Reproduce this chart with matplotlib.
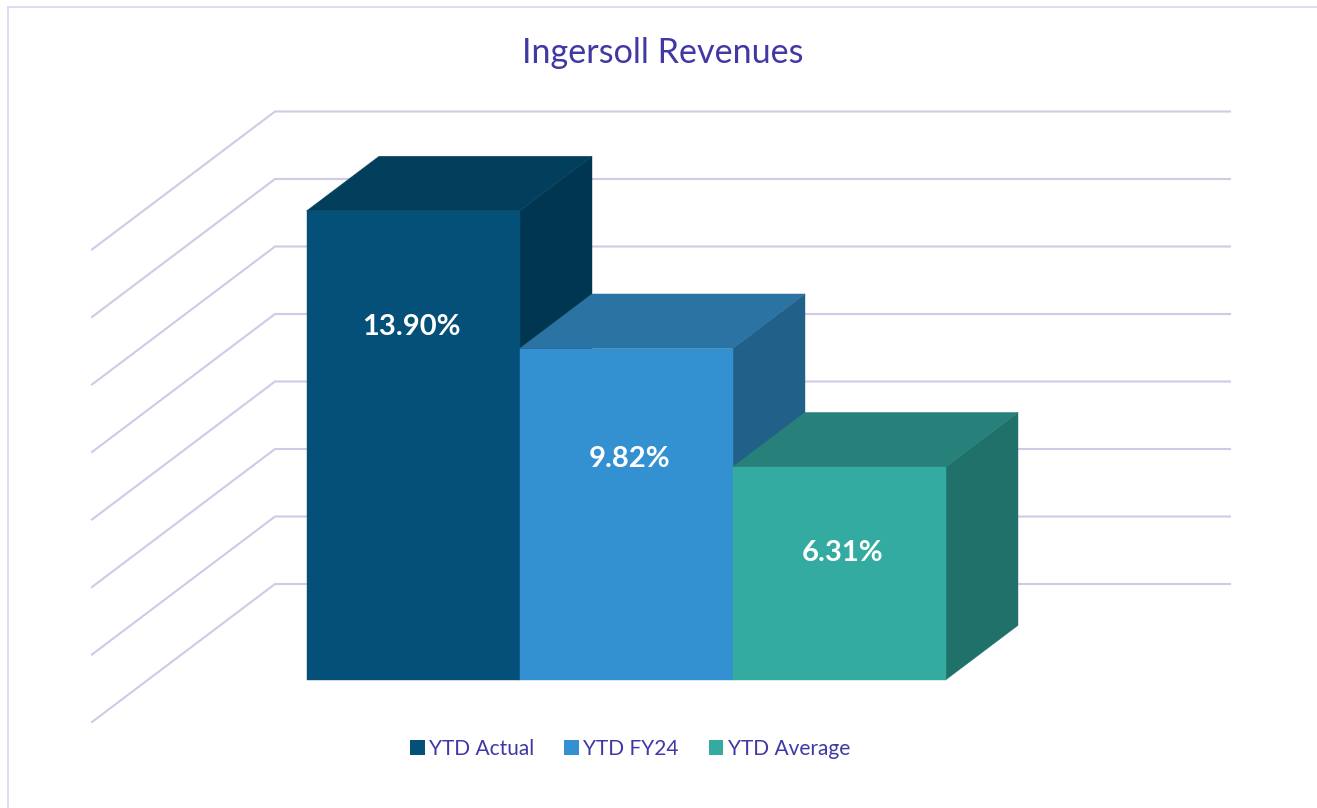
import matplotlib
matplotlib.use("Agg")
import matplotlib.pyplot as plt
from matplotlib.patches import Polygon, Patch

# values
series = ["YTD Actual", "YTD FY24", "YTD Average"]
values = [13.90, 9.82, 6.31]
labels = ["13.90%", "9.82%", "6.31%"]
grid_values = [0, 2, 4, 6, 8, 10, 12, 14]

front_colors = ["#045078", "#3491D1", "#34ABA1"]
top_colors = ["#023F5C", "#2A73A2", "#28807A"]
side_colors = ["#003650", "#216088", "#1F7169"]
text_color = "#4038A4"
grid_color = "#CFCAE6"
frame_color = "#D6D1F2"

W, H = 1317, 808
PX_X = 213.0    # pixels for one bar width
PX_Y = 33.75    # pixels for one percent
X0, Y0 = 92, 722    # front corner of the wall at 0

# depth of the walls, in data units
DEPTH_X = 183 / PX_X
DEPTH_Y = 138 / PX_Y
WALL_W = 955 / PX_X
BAR_D0 = 0.304
BAR_D1 = 0.70
BAR_START = 0.746


def proj(x, y, d):
    return (x + d * DEPTH_X, y + d * DEPTH_Y)


fig = plt.figure(figsize=(W / 100, H / 100), dpi=100)
ax = fig.add_axes([0, 0, 1, 1])
ax.set_xlim(-X0 / PX_X, (W - X0) / PX_X)
ax.set_ylim((Y0 - H) / PX_Y, Y0 / PX_Y)
ax.axis("off")

# outer frame, open to the right and bottom
fig.add_artist(plt.Line2D([7.5 / W, 7.5 / W], [0, 1 - 6.5 / H], color=frame_color, lw=1.1))
fig.add_artist(plt.Line2D([7.5 / W, 1], [1 - 6.5 / H, 1 - 6.5 / H], color=frame_color, lw=1.1))

# wall gridlines
for g in grid_values:
    a = proj(0, g, 0)
    b = proj(0, g, 1)
    c = proj(WALL_W, g, 1)
    ax.plot([a[0], b[0], c[0]], [a[1], b[1], c[1]], color=grid_color, lw=1.5,
            solid_joinstyle="miter", zorder=1)

# bars, left one first so the next covers its side
for i, v in enumerate(values):
    x0 = BAR_START + i
    x1 = x0 + 1
    front = [proj(x0, 0, BAR_D0), proj(x1, 0, BAR_D0), proj(x1, v, BAR_D0), proj(x0, v, BAR_D0)]
    top = [proj(x0, v, BAR_D0), proj(x1, v, BAR_D0), proj(x1, v, BAR_D1), proj(x0, v, BAR_D1)]
    side = [proj(x1, 0, BAR_D0), proj(x1, 0, BAR_D1), proj(x1, v, BAR_D1), proj(x1, v, BAR_D0)]
    z = 2 + i
    ax.add_patch(Polygon(side, closed=True, fc=side_colors[i], ec=side_colors[i], lw=0.3, zorder=z))
    ax.add_patch(Polygon(top, closed=True, fc=top_colors[i], ec=top_colors[i], lw=0.3, zorder=z))
    ax.add_patch(Polygon(front, closed=True, fc=front_colors[i], ec=front_colors[i], lw=0.3, zorder=z))

# data labels sit at hand placed spots in the original
label_px = [(411, 327), (630, 459), (843, 553)]
for (px, py), s in zip(label_px, labels):
    ax.text((px - X0) / PX_X, (Y0 - py) / PX_Y, s, color="white", fontsize=21,
            fontweight="bold", family="Lato", ha="center", va="center", zorder=10)

fig.text(663 / W, 1 - 53 / H, "Ingersoll Revenues", color=text_color, fontsize=24.6,
         family="Lato", ha="center", va="center")

handles = [Patch(facecolor=c, edgecolor="none") for c in front_colors]
leg = fig.legend(handles, series, ncol=3, loc="center", bbox_to_anchor=(630 / W, 1 - 749 / H),
                 frameon=False, prop={"family": "Lato", "size": 15},
                 handlelength=0.7, handleheight=0.7, handletextpad=0.2, columnspacing=1.45,
                 labelcolor=text_color)

fig.savefig("out.png", dpi=100)
